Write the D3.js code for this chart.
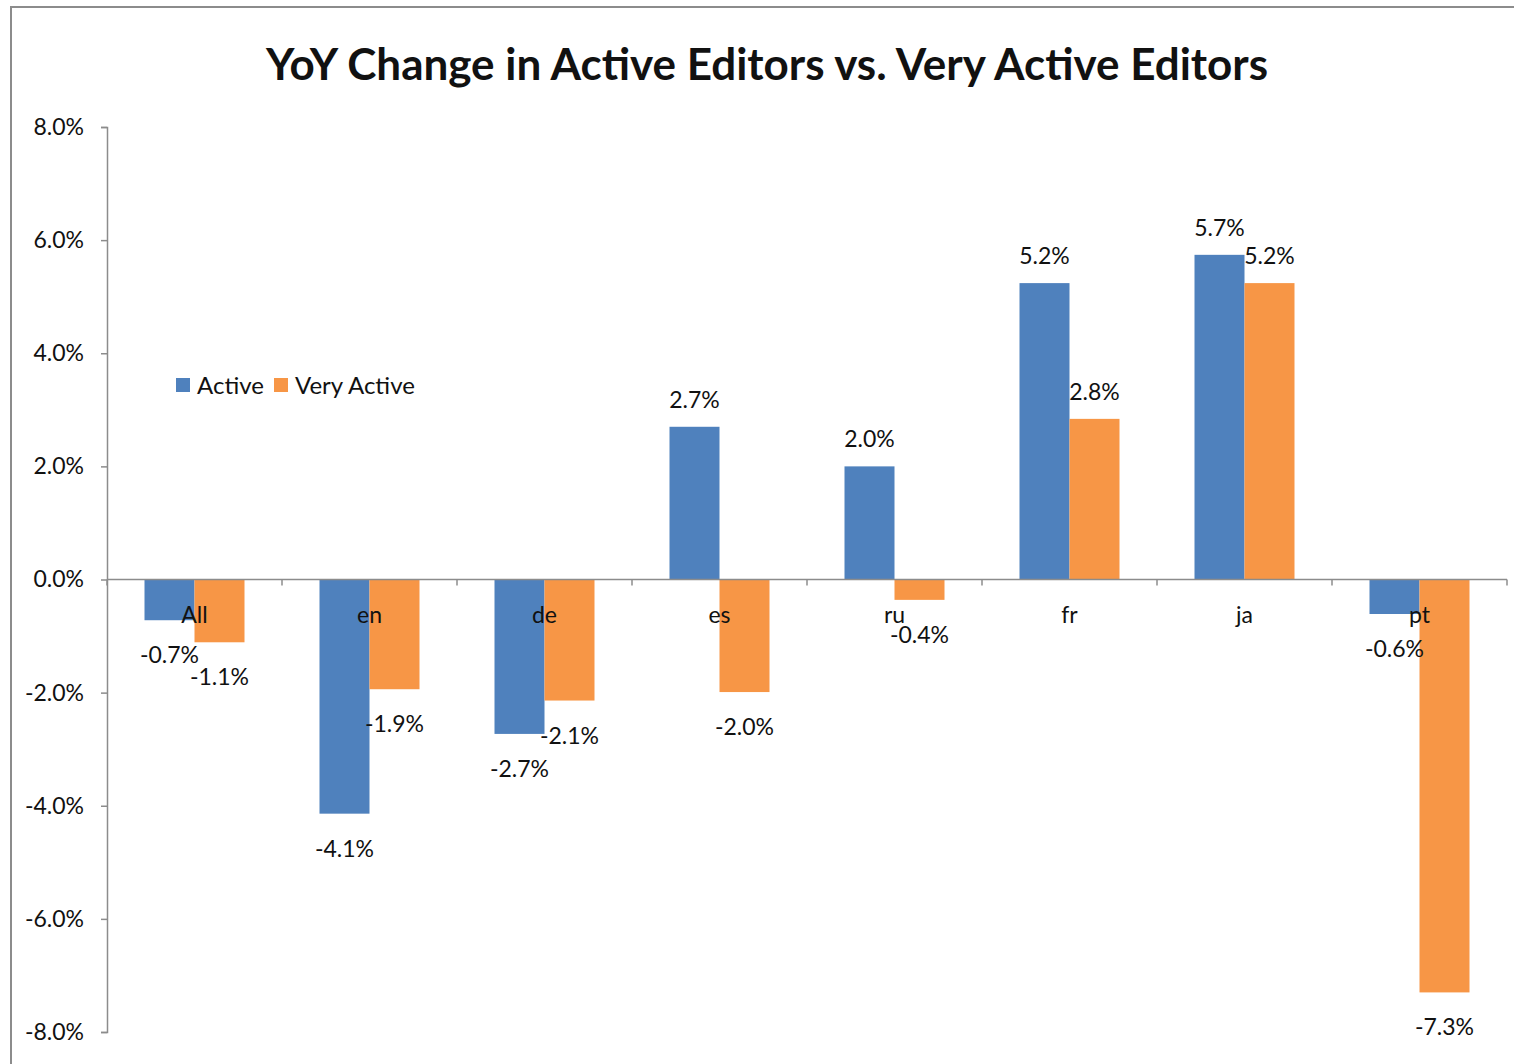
<!DOCTYPE html>
<html lang="en">
<head>
  <meta charset="UTF-8">
  <title>YoY Change in Active Editors vs. Very Active Editors</title>
  <script src="https://d3js.org/d3.v7.min.js"></script>
  <style>
    body { margin: 0; background: #fff; }
    text { font-family: Lato, "Open Sans", sans-serif; fill: #111; }
  </style>
</head>
<body>
  <div id="chart"></div>
  <script>
    const categories = ["All", "en", "de", "es", "ru", "fr", "ja", "pt"];
    const series = ["Active", "Very Active"];
    const activeValues = [-0.72, -4.14, -2.73, 2.70, 2.00, 5.24, 5.74, -0.61];
    const veryActiveValues = [-1.11, -1.94, -2.14, -1.99, -0.36, 2.84, 5.24, -7.30];
    const yTicks = [-8, -6, -4, -2, 0, 2, 4, 6, 8];
    const colors = ["#4F81BD", "#F79646"];

    const W = 1514, H = 1064;
    const svg = d3.select("#chart").append("svg")
      .attr("width", W)
      .attr("height", H);

    // outer frame (only left and top edges visible)
    svg.append("path")
      .attr("d", `M11,${H} V7 H${W}`)
      .attr("fill", "none")
      .attr("stroke", "#8c8c8c")
      .attr("stroke-width", 2);

    svg.append("text")
      .attr("x", 767)
      .attr("y", 80)
      .attr("text-anchor", "middle")
      .style("font-size", "44px")
      .style("font-weight", "bold")
      .text("YoY Change in Active Editors vs. Very Active Editors");

    const x0 = d3.scaleBand()
      .domain(categories)
      .range([107, 1507])
      .padding(0);

    const x1 = d3.scaleBand()
      .domain(series)
      .range([x0.bandwidth() / 2 - 50, x0.bandwidth() / 2 + 50]);

    const y = d3.scaleLinear()
      .domain([-8, 8])
      .range([1032, 127]);

    const rows = categories.map((c, i) => ({
      cat: c,
      vals: [
        { s: series[0], v: activeValues[i] },
        { s: series[1], v: veryActiveValues[i] }
      ]
    }));

    // y axis
    const yAxis = svg.append("g")
      .attr("transform", "translate(107,0)")
      .call(d3.axisLeft(y)
        .tickValues(yTicks)
        .tickSize(6)
        .tickPadding(17)
        .tickFormat(d => d.toFixed(1) + "%"));
    yAxis.selectAll("path, line").attr("stroke", "#8c8c8c").attr("stroke-width", 1.5);
    yAxis.selectAll("text").style("font-size", "23px").style("font-family", "Lato, sans-serif").attr("fill", "#111");

    // bars
    const groups = svg.append("g").selectAll("g")
      .data(rows)
      .join("g")
      .attr("transform", d => `translate(${x0(d.cat)},0)`);

    groups.selectAll("rect")
      .data(d => d.vals)
      .join("rect")
      .attr("x", d => x1(d.s))
      .attr("width", x1.bandwidth())
      .attr("y", d => y(Math.max(0, d.v)))
      .attr("height", d => Math.abs(y(d.v) - y(0)))
      .attr("fill", (d, i) => colors[i]);

    // x axis at zero
    const xAxis = svg.append("g")
      .attr("transform", `translate(0,${y(0)})`);
    xAxis.append("line")
      .attr("x1", 107).attr("x2", 1507)
      .attr("stroke", "#8c8c8c").attr("stroke-width", 1.5);
    xAxis.selectAll(".tk")
      .data(categories.concat(["end"]))
      .join("line")
      .attr("class", "tk")
      .attr("x1", (d, i) => i < categories.length ? x0(d) : 1507)
      .attr("x2", (d, i) => i < categories.length ? x0(d) : 1507)
      .attr("y1", 0).attr("y2", 6)
      .attr("stroke", "#8c8c8c").attr("stroke-width", 1.5);

    // value labels
    groups.selectAll("text.val")
      .data(d => d.vals)
      .join("text")
      .attr("class", "val")
      .attr("x", d => x1(d.s) + x1.bandwidth() / 2)
      .attr("y", d => d.v >= 0 ? y(d.v) - 19 : y(d.v) + 43)
      .attr("text-anchor", "middle")
      .style("font-size", "23px")
      .text(d => d.v.toFixed(1) + "%");

    // category labels
    xAxis.selectAll("text.cat")
      .data(categories)
      .join("text")
      .attr("class", "cat")
      .attr("x", d => x0(d) + x0.bandwidth() / 2)
      .attr("y", 43)
      .attr("text-anchor", "middle")
      .style("font-size", "23px")
      .text(d => d);

    // legend
    const legend = svg.append("g").attr("transform", "translate(176,378)");
    const legendX = [0, 98];
    series.forEach((s, i) => {
      legend.append("rect")
        .attr("x", legendX[i]).attr("y", 0)
        .attr("width", 14).attr("height", 14)
        .attr("fill", colors[i]);
      legend.append("text")
        .attr("x", legendX[i] + 21).attr("y", 16)
        .style("font-size", "24px")
        .text(s);
    });
  </script>
</body>
</html>
